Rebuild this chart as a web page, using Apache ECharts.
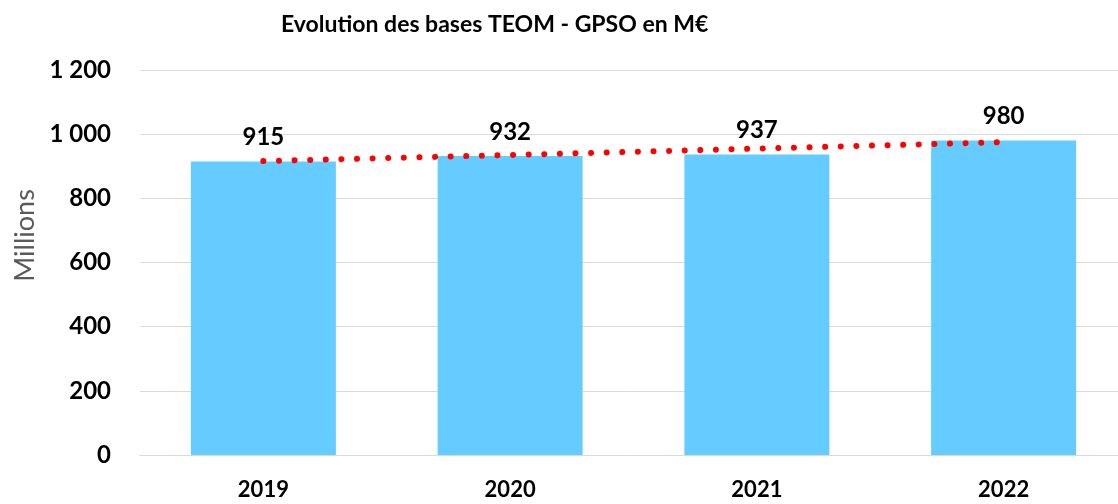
<!DOCTYPE html>
<html>
<head>
  <meta charset="utf-8">
  <script src="https://cdn.jsdelivr.net/npm/echarts@6/dist/echarts.min.js"></script>
  <style>
  html, body { margin: 0; padding: 0; background: #fff; }
  #main { width: 1118px; height: 504px; }
  </style>
</head>
<body>
  <div id="main"></div>
  <script type="text/javascript">
      // données
      var years = ['2019', '2020', '2021', '2022'];
      var bases = [915, 932, 937, 980];
      // courbe de tendance (pointillés rouges)
      var trend = [916, 935, 955, 975];
      var yTicks = [0, 200, 400, 600, 800, 1000, 1200];

      var font = 'Lato, "Open Sans", sans-serif';

      function fmt(v) {
          // séparateur des milliers : espace
          return String(v).replace(/\B(?=(\d{3})+(?!\d))/g, ' ');
      }

      var myChart = echarts.init(document.getElementById('main'));
      var option = {
          animation: false,
          title: {
              text: 'Evolution des bases TEOM - GPSO en M€',
              left: 276,
              top: 8,
              textStyle: { fontFamily: font, fontSize: 23, fontWeight: 'bold', color: '#000' }
          },
          // le graphique d'origine est rogné à droite
          grid: { left: 140, top: 70, width: 987, height: 385, outerBoundsMode: 'none', containLabel: false },
          xAxis: {
              type: 'category',
              data: years,
              axisTick: { show: false },
              axisLine: { lineStyle: { color: '#d9d9d9', width: 1 } },
              axisLabel: { fontFamily: font, fontSize: 22, fontWeight: 'bold', color: '#000', margin: 24 }
          },
          yAxis: {
              type: 'value',
              min: yTicks[0],
              max: yTicks[yTicks.length - 1],
              interval: 200,
              name: 'Millions',
              nameLocation: 'middle',
              nameRotate: 90,
              nameGap: 96,
              nameTextStyle: { fontFamily: font, fontSize: 27, color: '#595959', padding: [0, 0, 0, 54] },
              axisLine: { show: false },
              axisTick: { show: false },
              splitLine: { lineStyle: { color: '#d9d9d9', width: 1 } },
              axisLabel: {
                  fontFamily: font, fontSize: 24, fontWeight: 'bold', color: '#000', margin: 29,
                  formatter: fmt
              }
          },
          series: [{
              name: 'Bases',
              type: 'bar',
              data: bases,
              barWidth: 145,
              itemStyle: { color: '#66ccff' },
              label: {
                  show: true,
                  position: 'top',
                  distance: 12,
                  fontFamily: font, fontSize: 24, fontWeight: 'bold', color: '#000'
              }
          },
          {
              name: 'Tendance',
              type: 'line',
              data: trend,
              showSymbol: false,
              symbol: 'none',
              z: 5,
              lineStyle: { color: '#ff0000', width: 6, type: [0.01, 15.6], cap: 'round' }
          }]
      };
      myChart.setOption(option);
  </script>
</body>
</html>
